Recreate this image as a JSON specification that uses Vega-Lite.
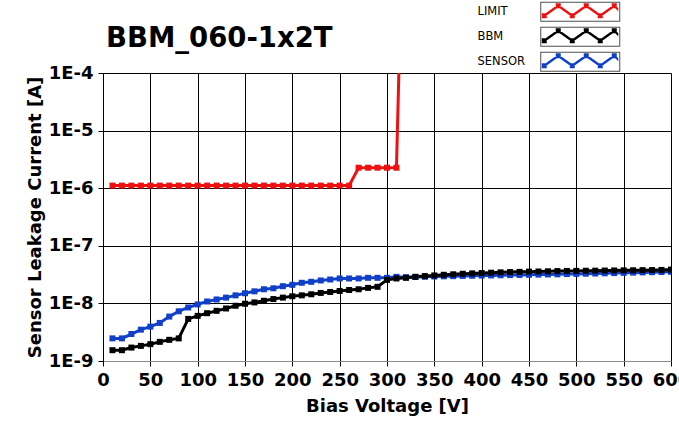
{
  "$schema": "https://vega.github.io/schema/vega-lite/v6.json",
  "width": 568,
  "height": 288,
  "autosize": {"type": "none"},
  "padding": {"left": 103, "top": 73, "right": 8, "bottom": 64},
  "background": "white",
  "title": {"text": "BBM_060-1x2T", "anchor": "start", "frame": "group", "font": "DejaVu Sans", "fontSize": 27.5, "fontWeight": "bold", "color": "black", "dx": 3, "dy": 68, "baseline": "alphabetic", "offset": 0},
  "config": {
    "view": {"stroke": null},
    "axis": {"domainColor": "black", "tickColor": "black", "gridColor": "black", "gridOpacity": 1, "gridWidth": 1, "labelFont": "DejaVu Sans", "labelFontSize": 18, "labelFontWeight": "bold", "labelColor": "black", "titleFont": "DejaVu Sans", "titleFontSize": 18, "titleFontWeight": "bold", "titleColor": "black", "tickSize": 5}
  },
  "data": {"values": [
    {"s":"LIMIT","v":10,"i":1.11e-6},{"s":"LIMIT","v":20,"i":1.11e-6},{"s":"LIMIT","v":30,"i":1.11e-6},{"s":"LIMIT","v":40,"i":1.11e-6},{"s":"LIMIT","v":50,"i":1.11e-6},{"s":"LIMIT","v":60,"i":1.11e-6},{"s":"LIMIT","v":70,"i":1.11e-6},{"s":"LIMIT","v":80,"i":1.11e-6},{"s":"LIMIT","v":90,"i":1.11e-6},{"s":"LIMIT","v":100,"i":1.11e-6},{"s":"LIMIT","v":110,"i":1.11e-6},{"s":"LIMIT","v":120,"i":1.11e-6},{"s":"LIMIT","v":130,"i":1.11e-6},{"s":"LIMIT","v":140,"i":1.11e-6},{"s":"LIMIT","v":150,"i":1.11e-6},{"s":"LIMIT","v":160,"i":1.11e-6},{"s":"LIMIT","v":170,"i":1.11e-6},{"s":"LIMIT","v":180,"i":1.11e-6},{"s":"LIMIT","v":190,"i":1.11e-6},{"s":"LIMIT","v":200,"i":1.11e-6},{"s":"LIMIT","v":210,"i":1.11e-6},{"s":"LIMIT","v":220,"i":1.11e-6},{"s":"LIMIT","v":230,"i":1.11e-6},{"s":"LIMIT","v":240,"i":1.11e-6},{"s":"LIMIT","v":250,"i":1.11e-6},{"s":"LIMIT","v":260,"i":1.11e-6},{"s":"LIMIT","v":270,"i":2.27e-6},{"s":"LIMIT","v":280,"i":2.27e-6},{"s":"LIMIT","v":290,"i":2.27e-6},{"s":"LIMIT","v":300,"i":2.27e-6},{"s":"LIMIT","v":310,"i":2.27e-6},{"s":"LIMIT","v":313,"i":2e-4},
    {"s":"SENSOR","v":10,"i":2.47e-9},{"s":"SENSOR","v":20,"i":2.47e-9},{"s":"SENSOR","v":30,"i":2.94e-9},{"s":"SENSOR","v":40,"i":3.5e-9},{"s":"SENSOR","v":50,"i":3.95e-9},{"s":"SENSOR","v":60,"i":4.58e-9},{"s":"SENSOR","v":70,"i":5.9e-9},{"s":"SENSOR","v":80,"i":7.3e-9},{"s":"SENSOR","v":90,"i":8.5e-9},{"s":"SENSOR","v":100,"i":9.6e-9},{"s":"SENSOR","v":110,"i":1.08e-8},{"s":"SENSOR","v":120,"i":1.17e-8},{"s":"SENSOR","v":130,"i":1.26e-8},{"s":"SENSOR","v":140,"i":1.38e-8},{"s":"SENSOR","v":150,"i":1.5e-8},{"s":"SENSOR","v":160,"i":1.62e-8},{"s":"SENSOR","v":170,"i":1.76e-8},{"s":"SENSOR","v":180,"i":1.83e-8},{"s":"SENSOR","v":190,"i":1.99e-8},{"s":"SENSOR","v":200,"i":2.1e-8},{"s":"SENSOR","v":210,"i":2.28e-8},{"s":"SENSOR","v":220,"i":2.37e-8},{"s":"SENSOR","v":230,"i":2.5e-8},{"s":"SENSOR","v":240,"i":2.6e-8},{"s":"SENSOR","v":250,"i":2.71e-8},{"s":"SENSOR","v":260,"i":2.71e-8},{"s":"SENSOR","v":270,"i":2.71e-8},{"s":"SENSOR","v":280,"i":2.78e-8},{"s":"SENSOR","v":290,"i":2.78e-8},{"s":"SENSOR","v":300,"i":2.78e-8},{"s":"SENSOR","v":310,"i":2.89e-8},{"s":"SENSOR","v":320,"i":2.85e-8},{"s":"SENSOR","v":330,"i":2.88e-8},{"s":"SENSOR","v":340,"i":2.9e-8},{"s":"SENSOR","v":350,"i":2.93e-8},{"s":"SENSOR","v":360,"i":2.95e-8},{"s":"SENSOR","v":370,"i":2.97e-8},{"s":"SENSOR","v":380,"i":3.0e-8},{"s":"SENSOR","v":390,"i":3.02e-8},{"s":"SENSOR","v":400,"i":3.04e-8},{"s":"SENSOR","v":410,"i":3.06e-8},{"s":"SENSOR","v":420,"i":3.08e-8},{"s":"SENSOR","v":430,"i":3.1e-8},{"s":"SENSOR","v":440,"i":3.12e-8},{"s":"SENSOR","v":450,"i":3.14e-8},{"s":"SENSOR","v":460,"i":3.16e-8},{"s":"SENSOR","v":470,"i":3.18e-8},{"s":"SENSOR","v":480,"i":3.2e-8},{"s":"SENSOR","v":490,"i":3.23e-8},{"s":"SENSOR","v":500,"i":3.25e-8},{"s":"SENSOR","v":510,"i":3.28e-8},{"s":"SENSOR","v":520,"i":3.3e-8},{"s":"SENSOR","v":530,"i":3.33e-8},{"s":"SENSOR","v":540,"i":3.36e-8},{"s":"SENSOR","v":550,"i":3.39e-8},{"s":"SENSOR","v":560,"i":3.42e-8},{"s":"SENSOR","v":570,"i":3.45e-8},{"s":"SENSOR","v":580,"i":3.48e-8},{"s":"SENSOR","v":590,"i":3.51e-8},{"s":"SENSOR","v":600,"i":3.54e-8},
    {"s":"BBM","v":10,"i":1.54e-9},{"s":"BBM","v":20,"i":1.54e-9},{"s":"BBM","v":30,"i":1.71e-9},{"s":"BBM","v":40,"i":1.83e-9},{"s":"BBM","v":50,"i":1.96e-9},{"s":"BBM","v":60,"i":2.15e-9},{"s":"BBM","v":70,"i":2.33e-9},{"s":"BBM","v":80,"i":2.47e-9},{"s":"BBM","v":90,"i":5.38e-9},{"s":"BBM","v":100,"i":6.08e-9},{"s":"BBM","v":110,"i":6.76e-9},{"s":"BBM","v":120,"i":7.43e-9},{"s":"BBM","v":130,"i":8.17e-9},{"s":"BBM","v":140,"i":9.1e-9},{"s":"BBM","v":150,"i":9.86e-9},{"s":"BBM","v":160,"i":1.04e-8},{"s":"BBM","v":170,"i":1.11e-8},{"s":"BBM","v":180,"i":1.19e-8},{"s":"BBM","v":190,"i":1.26e-8},{"s":"BBM","v":200,"i":1.33e-8},{"s":"BBM","v":210,"i":1.38e-8},{"s":"BBM","v":220,"i":1.44e-8},{"s":"BBM","v":230,"i":1.52e-8},{"s":"BBM","v":240,"i":1.58e-8},{"s":"BBM","v":250,"i":1.64e-8},{"s":"BBM","v":260,"i":1.71e-8},{"s":"BBM","v":270,"i":1.76e-8},{"s":"BBM","v":280,"i":1.86e-8},{"s":"BBM","v":290,"i":1.94e-8},{"s":"BBM","v":300,"i":2.56e-8},{"s":"BBM","v":310,"i":2.71e-8},{"s":"BBM","v":320,"i":2.78e-8},{"s":"BBM","v":330,"i":2.89e-8},{"s":"BBM","v":340,"i":2.98e-8},{"s":"BBM","v":350,"i":3.06e-8},{"s":"BBM","v":360,"i":3.14e-8},{"s":"BBM","v":370,"i":3.2e-8},{"s":"BBM","v":380,"i":3.27e-8},{"s":"BBM","v":390,"i":3.32e-8},{"s":"BBM","v":400,"i":3.36e-8},{"s":"BBM","v":410,"i":3.41e-8},{"s":"BBM","v":420,"i":3.46e-8},{"s":"BBM","v":430,"i":3.5e-8},{"s":"BBM","v":440,"i":3.53e-8},{"s":"BBM","v":450,"i":3.56e-8},{"s":"BBM","v":460,"i":3.58e-8},{"s":"BBM","v":470,"i":3.61e-8},{"s":"BBM","v":480,"i":3.64e-8},{"s":"BBM","v":490,"i":3.66e-8},{"s":"BBM","v":500,"i":3.67e-8},{"s":"BBM","v":510,"i":3.69e-8},{"s":"BBM","v":520,"i":3.7e-8},{"s":"BBM","v":530,"i":3.72e-8},{"s":"BBM","v":540,"i":3.73e-8},{"s":"BBM","v":550,"i":3.75e-8},{"s":"BBM","v":560,"i":3.76e-8},{"s":"BBM","v":570,"i":3.78e-8},{"s":"BBM","v":580,"i":3.79e-8},{"s":"BBM","v":590,"i":3.81e-8},{"s":"BBM","v":600,"i":3.87e-8}
  ]},
  "mark": {"type": "line", "strokeWidth": 3, "clip": true, "point": {"shape": "square", "size": 36, "filled": true, "clip": true}},
  "encoding": {
    "x": {"field": "v", "type": "quantitative", "scale": {"domain": [0, 600], "nice": false},
      "axis": {"title": "Bias Voltage [V]", "values": [0,50,100,150,200,250,300,350,400,450,500,550,600], "domainColor": "#8a8a8a", "labelPadding": 5, "titlePadding": 8, "labelFlush": false, "labelOverlap": false}},
    "y": {"field": "i", "type": "quantitative", "scale": {"type": "log", "domain": [1e-9, 1e-4], "nice": false},
      "axis": {"title": "Sensor Leakage Current [A]", "values": [1e-9,1e-8,1e-7,1e-6,1e-5,1e-4], "labelExpr": "'1E' + round(log(datum.value)/LN10)", "labelPadding": 5, "titlePadding": 4, "labelFlush": false, "labelOverlap": false}},
    "color": {"field": "s", "type": "nominal",
      "scale": {"domain": ["LIMIT", "BBM", "SENSOR"], "range": ["#ee1111", "#000000", "#1040c8"]},
      "legend": {"orient": "none", "legendX": 471.5, "legendY": -67, "title": null, "padding": 0,
        "symbolType": "M-40,-10L-40,10L-40,-10ZM-36,2.5L-22,-7.5L-22,-4.5L-36,5.5ZM-22,-7.5L-8,2.5L-8,5.5L-22,-4.5ZM-8,2.5L6,-7.5L6,-4.5L-8,5.5ZM6,-7.5L20,2.5L20,5.5L6,-4.5ZM20,2.5L34,-7.5L34,-4.5L20,5.5ZM34,-7.5L38,-3.5L38,-0.5L34,-4.5ZM-38.5,1.5L-33.5,1.5L-33.5,6.5L-38.5,6.5ZM-24.5,-8.5L-19.5,-8.5L-19.5,-3.5L-24.5,-3.5ZM-10.5,1.5L-5.5,1.5L-5.5,6.5L-10.5,6.5ZM3.5,-8.5L8.5,-8.5L8.5,-3.5L3.5,-3.5ZM17.5,1.5L22.5,1.5L22.5,6.5L17.5,6.5ZM31.5,-8.5L36.5,-8.5L36.5,-3.5L31.5,-3.5ZM40,-10L40,10L40,-10Z",
        "symbolSize": 4, "symbolStrokeWidth": 0, "labelOffset": -108.5, "labelFont": "DejaVu Sans", "labelFontSize": 11.5, "labelColor": "black", "rowPadding": 4,
        "encode": {"symbols": {"update": {"fill": {"scale": "color", "field": "value"}, "stroke": {"value": "transparent"}}}}}},
    "opacity": {"field": "s", "type": "nominal",
      "scale": {"domain": ["BBM", "LIMIT", "SENSOR"], "range": [1, 1, 1]},
      "legend": {"orient": "none", "legendX": 471.5, "legendY": -67, "title": null, "padding": 0, "values": ["LIMIT", "BBM", "SENSOR"],
        "symbolType": "M-40,-10L40,-10L40,10L-40,10ZM-39,-9L-39,9L39,9L39,-9Z",
        "symbolSize": 4, "symbolStrokeWidth": 0, "labelOffset": -108.5, "labelFont": "DejaVu Sans", "labelFontSize": 11.5, "labelExpr": "''", "rowPadding": 4,
        "encode": {"symbols": {"update": {"fill": {"value": "#505050"}, "stroke": {"value": "transparent"}, "opacity": {"value": 1}}}}}}
  }
}
